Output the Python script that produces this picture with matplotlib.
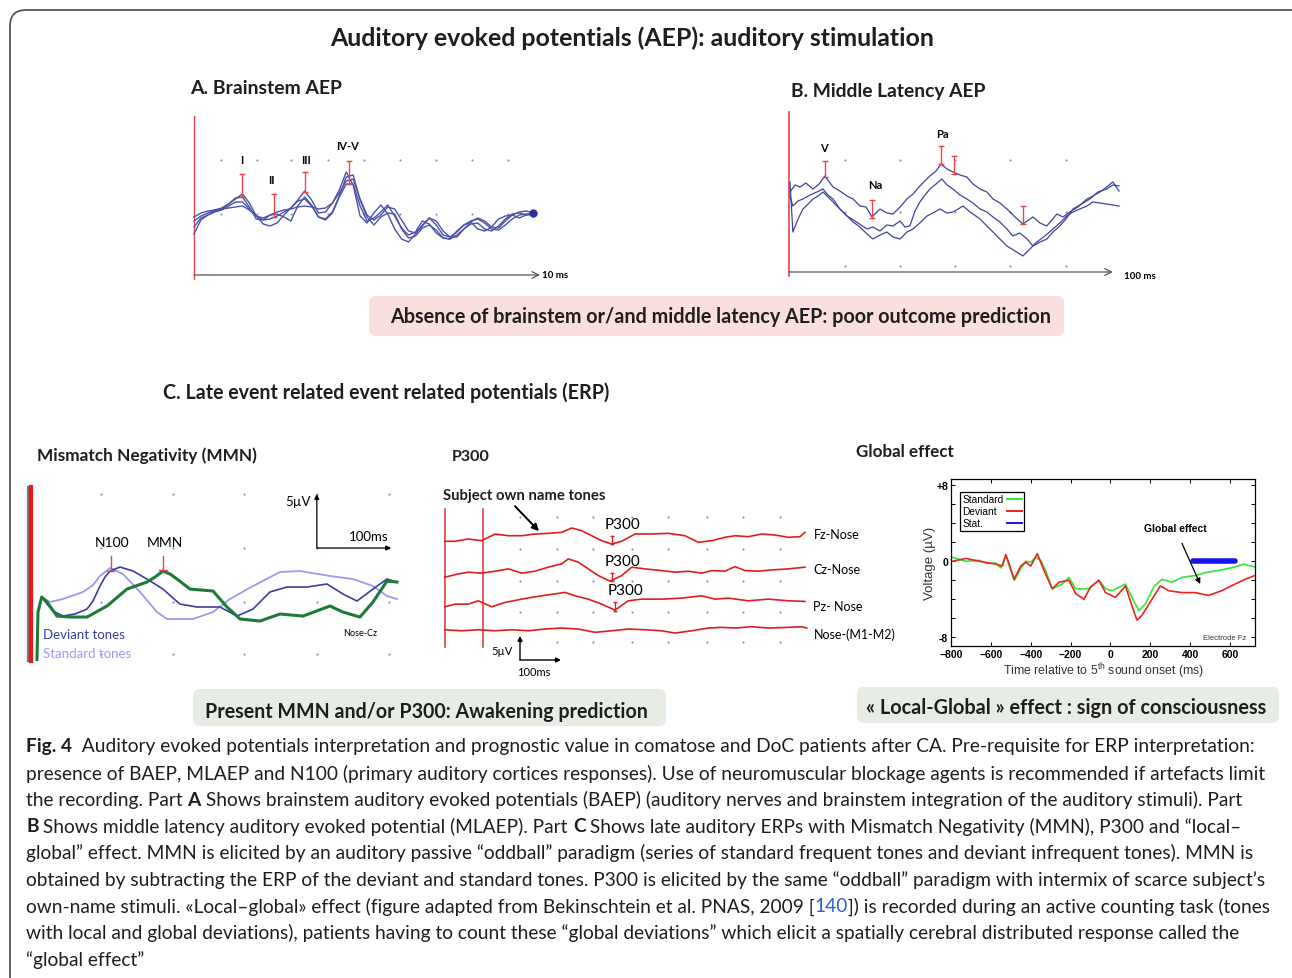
import numpy as np
import matplotlib
matplotlib.use('Agg')
import matplotlib.pyplot as plt
from matplotlib.patches import FancyBboxPatch, Rectangle
from matplotlib.font_manager import FontProperties

plt.rcParams['mathtext.fontset'] = 'custom'
plt.rcParams['mathtext.rm'] = 'Liberation Sans'
plt.rcParams['mathtext.default'] = 'regular'

SANS = 'Lato'
HELV = 'Liberation Sans'
INK = '#1e1e1e'
RED = '#e8464c'
DOT = '#8a90d0'

# ---- A. brainstem AEP (ms, uV) : 4 superimposed traces
a_t = [0.0, 0.2, 0.4, 0.6, 0.8, 1.0, 1.2, 1.4, 1.6, 1.8, 2.0, 2.2, 2.4, 2.6, 2.8, 3.0, 3.2, 3.4, 3.6, 3.8,
       4.0, 4.2, 4.4, 4.6, 4.8, 5.0, 5.2, 5.4, 5.6, 5.8, 6.0, 6.2, 6.4, 6.6, 6.8, 7.0, 7.2, 7.4, 7.6, 7.8,
       8.0, 8.2, 8.4, 8.6, 8.8, 9.0, 9.2, 9.4, 9.6, 9.8]
a_tr1 = [4.1, 5.5, 6.0, 6.4, 6.6, 7.1, 7.6, 8.1, 7.2, 5.9, 5.5, 5.6, 5.9, 6.3, 6.7, 7.5, 8.4, 7.5, 6.2, 6.3,
         7.2, 8.5, 10.3, 9.0, 5.9, 5.2, 6.2, 7.0, 6.1, 4.6, 3.6, 3.3, 4.1, 5.0, 5.7, 5.4, 4.4, 3.8, 3.8, 4.6,
         5.3, 5.7, 5.4, 4.8, 4.7, 5.4, 6.0, 6.3, 6.4, 6.2]
a_tr2 = [4.8, 5.7, 6.0, 6.3, 6.5, 6.9, 7.3, 7.3, 6.6, 5.9, 5.1, 4.9, 5.2, 6.0, 6.7, 7.4, 7.6, 6.9, 5.8, 5.5,
         6.2, 7.8, 9.1, 9.1, 6.9, 5.4, 5.7, 6.3, 7.0, 5.9, 4.7, 4.0, 4.3, 5.4, 5.1, 4.2, 3.7, 3.6, 4.4, 5.0,
         5.3, 4.6, 4.4, 4.8, 5.6, 5.9, 6.0, 5.7, 6.0, 6.1]
a_tr3 = [5.8, 6.2, 6.4, 6.5, 6.6, 6.7, 6.8, 6.9, 6.5, 5.9, 5.7, 6.0, 6.3, 6.5, 6.6, 6.8, 6.9, 6.8, 6.6, 6.7,
         7.2, 8.2, 9.4, 9.6, 7.6, 6.0, 5.5, 6.0, 6.8, 6.6, 5.5, 4.4, 4.2, 4.9, 5.7, 5.0, 4.0, 3.8, 4.3, 5.0,
         5.4, 5.6, 5.2, 4.6, 4.5, 5.0, 5.6, 6.0, 6.1, 6.1]
a_tr4 = [5.4, 5.9, 6.2, 6.5, 6.7, 7.1, 7.7, 7.8, 6.8, 5.6, 5.5, 6.0, 6.1, 5.8, 5.4, 6.9, 7.8, 7.0, 5.8, 5.6,
         6.3, 7.9, 9.8, 10.0, 7.5, 5.8, 5.0, 5.8, 6.2, 6.1, 4.6, 3.7, 3.9, 4.7, 5.0, 4.5, 3.7, 3.6, 4.0, 4.6,
         5.1, 5.2, 4.6, 4.4, 4.9, 5.6, 6.1, 6.2, 6.0, 6.1]
a_waves = ['I', 'II', 'III', 'IV-V']
a_wave_t = [1.39, 2.31, 3.21, 4.48]
a_wave_lo = [7.8, 5.8, 8.3, 9.1]
a_wave_hi = [10.1, 8.1, 10.3, 11.4]
a_label_t = [1.39, 2.23, 3.24, 4.45]
a_label_y = [11.6, 9.5, 11.6, 13.0]
a_dot_t = [0.77, 1.83, 2.8, 3.87, 4.91, 5.95, 6.99, 8.03, 9.08]
a_dot_y = [11.5, 6.1]

# ---- B. middle latency AEP (ms, uV) : 3 traces
b_t1 = [0.3, 1.9, 3.4, 5.2, 7.4, 9.3, 11.1, 13.6, 15.7, 17.9, 19.8, 21.9, 23.8, 25.6, 28.1, 30.2, 32.1,
        34.3, 36.4, 38.3, 40.4, 43.5, 45.4, 46.9, 48.8, 50.6, 52.8, 54.9, 56.8, 59.0, 61.1, 63.0, 65.1,
        67.3, 69.8, 72.2, 75.3, 77.5, 79.6, 82.7, 84.6, 86.7, 89.2, 92.0, 93.8, 96.0, 98.1, 100.0, 101.9]
b_tr1 = [8.0, 8.7, 8.5, 8.9, 8.3, 8.8, 9.6, 8.5, 8.1, 7.6, 7.3, 6.6, 6.5, 5.5, 6.3, 5.9, 5.8,
         6.5, 7.3, 7.8, 8.6, 9.6, 10.1, 10.8, 10.3, 10.0, 9.7, 9.5, 8.8, 8.3, 8.0, 7.3, 6.9,
         6.3, 5.5, 4.8, 5.5, 4.9, 4.6, 5.8, 5.5, 6.0, 6.5, 7.3, 7.6, 8.0, 8.5, 9.0, 8.1]
b_t2 = [0.3, 1.2, 2.8, 4.3, 6.5, 8.6, 10.5, 12.0, 13.6, 15.7, 17.9, 20.4, 22.2, 24.1, 25.9, 28.1, 30.2,
        32.1, 34.3, 35.8, 37.3, 38.9, 40.4, 42.0, 43.5, 45.4, 47.2, 48.8, 50.6, 52.8, 54.9, 56.8, 59.0,
        61.1, 63.0, 65.1, 67.3, 69.1, 71.3, 73.5, 75.3, 77.5, 79.6, 81.5, 83.6, 85.5, 87.7, 89.8, 92.9,
        95.4, 98.1, 100.0, 101.9]
b_tr2 = [7.6, 6.6, 7.1, 7.3, 7.7, 8.0, 8.3, 7.7, 7.3, 6.3, 5.6, 5.1, 4.7, 4.3, 4.5, 4.1, 4.7,
         4.6, 5.1, 4.5, 4.6, 6.1, 7.0, 7.7, 8.3, 8.8, 9.3, 8.7, 8.3, 7.7, 7.3, 6.9, 6.3,
         6.0, 5.5, 5.0, 4.3, 3.6, 3.9, 3.3, 2.6, 3.0, 3.3, 4.0, 4.6, 5.3, 6.3, 6.7, 7.3,
         8.0, 8.3, 8.7, 8.6]
b_t3 = [0.3, 1.2, 2.8, 4.3, 5.9, 7.4, 9.0, 10.5, 12.7, 14.8, 17.3, 19.8, 21.9, 24.1, 25.9, 28.1, 30.2,
        32.1, 34.3, 36.4, 38.3, 40.4, 42.6, 44.4, 46.6, 48.8, 50.6, 52.2, 53.7, 55.9, 59.0, 61.1, 63.0,
        65.1, 67.3, 69.8, 72.2, 74.4, 76.5, 79.0, 81.5, 83.6, 85.8, 87.7, 89.8, 92.0, 93.8, 96.0, 98.1,
        100.0, 101.9]
b_tr3 = [9.0, 4.0, 5.3, 6.3, 6.8, 7.3, 7.6, 8.0, 7.3, 6.6, 5.8, 5.0, 4.5, 3.8, 3.3, 3.7, 4.0,
         3.5, 3.3, 4.0, 4.3, 4.9, 5.6, 5.9, 6.3, 5.9, 6.0, 6.3, 6.6, 6.0, 5.3, 4.6, 4.0,
         3.3, 2.6, 2.1, 1.6, 2.3, 3.0, 3.6, 4.3, 4.9, 5.6, 6.0, 6.3, 6.6, 7.0, 6.9, 6.8,
         6.7, 6.6]
b_bar_t = [11.1, 25.6, 46.9, 50.9, 72.2]
b_bar_lo = [9.5, 5.4, 10.8, 9.8, 4.8]
b_bar_hi = [11.1, 7.2, 12.6, 11.6, 6.6]
b_waves = ['V', 'Na', 'Pa']
b_label_t = [10.8, 26.5, 47.5]
b_label_y = [12.4, 8.7, 13.8]
b_dot_t = [17.3, 34.3, 51.2, 68.2, 85.5]
b_dot_y = [11.2, 6.0, 0.6]

# ---- C1. mismatch negativity (ms, uV)
mmn_dev_t = [14.9, 22.2, 30.6, 44.4, 61.1, 77.8, 86.1, 95.8, 102.8, 109.7, 123.6, 141.7, 161.1, 183.3,
             195.8, 206.9, 230.6, 262.5, 286.1, 308.3, 331.9, 355.6, 383.3, 411.1, 433.3, 452.8, 475.0,
             494.4, 508.3]
mmn_dev = [0.46, -0.19, -0.83, -1.30, -1.11, -0.65, 0.09, 1.48, 2.31, 2.87, 3.24, 2.87, 2.13, 1.20,
           0.46, -0.19, -0.46, -0.46, -1.30, -0.65, 0.93, 1.39, 1.39, 1.67, 0.74, 0.09, 1.20,
           2.13, 1.85]
mmn_std_t = [14.9, 26.4, 44.4, 72.2, 86.1, 95.8, 109.7, 127.8, 151.4, 175.0, 188.9, 225.0, 252.8, 276.4,
             308.3, 345.8, 373.6, 415.3, 447.2, 475.0, 494.4, 508.3]
mmn_std = [0.46, 0.0, 0.28, 0.93, 1.57, 2.41, 3.15, 2.59, 0.93, -0.93, -1.57, -1.57, -0.93, 0.28,
           1.48, 2.78, 2.87, 2.41, 2.13, 1.48, 0.56, 0.28]
mmn_diff_t = [8.3, 9.7, 14.9, 22.2, 36.1, 54.2, 77.8, 105.6, 133.3, 161.1, 172.2, 183.3, 193.1, 202.8,
              220.8, 252.8, 272.2, 290.3, 318.1, 345.8, 377.8, 415.3, 433.3, 456.9, 475.0, 494.4, 508.3]
mmn_diff = [-5.46, -0.93, 0.46, 0.0, -1.30, -1.39, -1.39, -0.37, 1.20, 1.85, 2.31, 2.87, 2.59, 2.13,
            1.20, 1.02, -0.46, -1.57, -1.76, -1.11, -1.30, -0.37, -0.93, -1.39, 0.0, 1.94, 1.85]
mmn_peak_names = ['N100', 'MMN']
mmn_peak_t = [110.7, 183.3]
mmn_peak_lo = [2.9, 3.0]
mmn_peak_hi = [4.3, 4.3]
mmn_dot_t = [97, 197, 296, 397, 497]
mmn_dot_y = [10.0, 5.0, 0.0, -4.8]

# ---- C2. P300 (ms, uV relative to each channel baseline)
p3_channels = ['Fz-Nose', 'Cz-Nose', 'Pz- Nose', 'Nose-(M1-M2)']
fz_t = [-95, -70, -36.8, -3.3, 30, 63.3, 96.8, 130, 163.3, 196.8, 221.8, 246.8, 271.8, 296.8, 321.8,
        346.8, 380, 421.8, 463.3, 505, 538.3, 571.8, 605, 630, 663.3, 696.8, 730, 763.3, 792.5, 805]
fz_uv = [-0.06, -0.06, 0.42, 0.06, 1.46, 1.10, 1.10, 1.46, 1.60, 1.81, 2.71, 2.15, 1.10, 0.06, -0.63,
         -0.06, 1.46, 1.46, 1.60, 1.10, -0.27, 0.06, 0.77, 1.10, 0.90, 1.46, 1.25, 0.77, 0.90, 1.81]
cz_t = [-95, -61.8, -36.8, -3.3, 30, 63.3, 96.8, 130, 163.3, 196.8, 213.3, 238.3, 263.3, 288.3, 317.5,
        346.8, 371.8, 405, 446.8, 480, 513.3, 546.8, 571.8, 605, 630, 655, 688.3, 721.8, 763.3, 805]
cz_uv = [-0.69, 0.0, 0.35, 0.15, 0.56, 1.04, 0.15, 0.56, 1.40, 2.08, 3.13, 2.44, 1.04, -0.35, -1.52,
         -0.35, 1.40, 1.04, 0.69, 0.35, 0.56, 0.15, 0.69, 0.56, 1.52, 0.69, 0.56, 0.83, 1.04, 1.40]
pz_t = [-95, -70, -36.8, -11.8, 21.8, 55, 96.8, 130, 163.3, 205, 230, 263.3, 296.8, 330, 363.3,
        396.8, 446.8, 496.8, 546.8, 580, 613.3, 663.3, 713.3, 763.3, 805]
pz_uv = [-0.56, 0.0, 0.0, 0.69, -0.56, 0.35, 1.04, 1.52, 1.94, 2.44, 1.73, 1.04, 0.0, -1.25, 0.69,
         1.04, 1.04, 1.25, 1.73, 1.04, 1.25, 0.69, 1.04, 0.69, 0.56]
nose_t = [-95, -53.3, -11.8, 30, 71.8, 113.3, 155, 196.8, 238.3, 280, 321.8, 363.3, 405, 446.8, 480,
          521.8, 563.3, 596.8, 630, 671.8, 713.3, 763.3, 796.8, 809.3]
nose_uv = [0.06, -0.15, 0.06, -0.15, 0.06, -0.15, 0.21, 0.42, 0.21, -0.48, -0.15, 0.21, 0.06, -0.15, -0.63,
           -0.15, 0.42, 0.56, 0.42, 0.69, 0.42, 0.56, 0.69, 0.42]
p3_peak_t = [322.5, 322.5, 330]
p3_peak_lo = [-0.6, -1.5, -1.4]
p3_peak_hi = [1.1, 0.2, 0.4]
p3_dot_t = [92.5, 185, 275, 372.5, 462.5, 560, 650, 742.5]
p3_dot_y = [31.25, 24.6, 17.9, 11.5, 5.2]

# ---- C3. global effect (ms, uV)
ge_std_t = [-792, -725, -658, -625, -575, -550, -525, -508, -483, -450, -425, -400, -375, -350, -325,
            -292, -242, -208, -175, -108, -58, -25, 8, 75, 108, 142, 175, 217, 258, 308, 358, 425,
            475, 558, 625, 667, 725]
ge_std = [0.4, 0.0, 0.1, -0.2, -0.2, -0.7, 0.6, -0.5, -2.0, -0.8, 0.0, -0.1, 0.4, 0.1, -1.0,
          -2.9, -2.4, -1.7, -2.9, -2.9, -2.0, -2.9, -3.1, -2.4, -3.8, -5.2, -4.5, -2.7, -1.9, -2.2, -1.7, -1.5,
          -1.2, -0.9, -0.6, -0.3, -0.6]
ge_dev_t = [-792, -725, -658, -575, -542, -525, -508, -483, -450, -425, -400, -367, -333, -292, -258,
            -208, -175, -133, -100, -58, -25, 25, 75, 108, 133, 158, 208, 250, 292, 358, 425, 492,
            558, 625, 675, 725]
ge_dev = [0.0, 0.3, 0.0, -0.3, -0.5, 0.7, -0.3, -1.9, -0.5, -0.1, -0.5, 0.8, -1.0, -2.9, -2.2,
          -2.0, -3.4, -4.0, -2.7, -2.0, -3.3, -3.8, -2.6, -4.7, -6.2, -5.7, -4.0, -2.6, -3.1, -3.3, -3.3, -3.6,
          -3.1, -2.4, -1.9, -1.5]
ge_stat_t = [416, 625]
ge_series = ['Standard', 'Deviant', 'Stat.']
ge_colors = ['#33e633', '#ee2222', '#1515e6']
ge_xticks = [-800, -600, -400, -200, 0, 200, 400, 600]
ge_yticks = [-8, -6, -4, -2, 0, 2, 4, 6, 8]
ge_ylabels = ['-8', '', '', '', '0', '', '', '', '+8']

caption = [
    [('Fig. 4', 'bold', INK), ('  Auditory evoked potentials interpretation and prognostic value in comatose and DoC patients after CA. Pre-requisite for ERP interpretation:', 'normal', INK)],
    [('presence of BAEP, MLAEP and N100 (primary auditory cortices responses). Use of neuromuscular blockage agents is recommended if artefacts limit', 'normal', INK)],
    [('the recording. Part ', 'normal', INK), ('A', 'bold', INK), (' Shows brainstem auditory evoked potentials (BAEP) (auditory nerves and brainstem integration of the auditory stimuli). Part', 'normal', INK)],
    [('B', 'bold', INK), (' Shows middle latency auditory evoked potential (MLAEP). Part ', 'normal', INK), ('C', 'bold', INK), (' Shows late auditory ERPs with Mismatch Negativity (MMN), P300 and \u201clocal\u2013', 'normal', INK)],
    [('global\u201d effect. MMN is elicited by an auditory passive \u201coddball\u201d paradigm (series of standard frequent tones and deviant infrequent tones). MMN is', 'normal', INK)],
    [('obtained by subtracting the ERP of the deviant and standard tones. P300 is elicited by the same \u201coddball\u201d paradigm with intermix of scarce subject\u2019s', 'normal', INK)],
    [('own-name stimuli. \u00abLocal\u2013global\u00bb effect (figure adapted from Bekinschtein et al. PNAS, 2009 [', 'normal', INK), ('140', 'normal', '#2a62c9'), (']) is recorded during an active counting task (tones', 'normal', INK)],
    [('with local and global deviations), patients having to count these \u201cglobal deviations\u201d which elicit a spatially cerebral distributed response called the', 'normal', INK)],
    [('\u201cglobal effect\u201d', 'normal', INK)],
]

W, H = 1292, 979
fig = plt.figure(figsize=(W / 100, H / 100), dpi=100)
R = fig.canvas.get_renderer()

bg = fig.add_axes([0, 0, 1, 1])
bg.set_xlim(0, W)
bg.set_ylim(H, 0)
bg.axis('off')


def px_axes(l, t, r, b):
    ax = fig.add_axes([l / W, 1 - b / H, (r - l) / W, (b - t) / H])
    ax.axis('off')
    return ax


def text_w(s, size, weight='normal', family=SANS):
    fp = FontProperties(family=family, size=size, weight=weight)
    w1 = R.get_text_width_height_descent(s + '|', fp, ismath=False)[0]
    w0 = R.get_text_width_height_descent('|', fp, ismath=False)[0]
    return w1 - w0


def fit(x, y, s, width, ha='left', weight='bold', color=INK):
    size = 10 * width / text_w(s, 10, weight)
    bg.text(x, y, s, fontsize=size, ha=ha, va='center', fontweight=weight, color=color, family=SANS)


def ibar(ax, t, lo, hi, color=RED, ms=4):
    ax.plot([t, t], [lo, hi], color=color, lw=1.0, clip_on=False)
    ax.plot([t, t], [lo, hi], ls='none', marker='_', ms=ms, mew=1.0, color=color, clip_on=False)


def dots(ax, xs, ys):
    gx, gy = np.meshgrid(xs, ys)
    ax.scatter(gx.ravel(), gy.ravel(), s=2.5, color=DOT, lw=0, zorder=0)


# frame and boxes
bg.add_patch(FancyBboxPatch((10, 11), 1320, 1000, boxstyle='round,pad=0,rounding_size=16',
                            fc='none', ec='#555555', lw=1.3))
bg.add_patch(FancyBboxPatch((369, 297), 695, 40, boxstyle='round,pad=0,rounding_size=7',
                            fc='#fbdede', ec='none'))
bg.add_patch(FancyBboxPatch((193, 690), 473, 37, boxstyle='round,pad=0,rounding_size=7',
                            fc='#e7ede4', ec='none'))
bg.add_patch(FancyBboxPatch((857, 688), 422, 36, boxstyle='round,pad=0,rounding_size=7',
                            fc='#e7ede4', ec='none'))

fit(632, 38, 'Auditory evoked potentials (AEP): auditory stimulation', 604, ha='center')
fit(190, 89, 'A. Brainstem AEP', 152)
fit(791, 91, 'B. Middle Latency AEP', 196)
fit(721, 317, 'Absence of brainstem or/and middle latency AEP: poor outcome prediction', 664, ha='center')
fit(163, 393, 'C. Late event related event related potentials (ERP)', 448)
fit(37, 456, 'Mismatch Negativity (MMN)', 220)
fit(452, 457, 'P300', 38)
fit(856, 452, 'Global effect', 98)
fit(443, 496, 'Subject own name tones', 163)
fit(426, 712, 'Present MMN and/or P300: Awakening prediction', 442, ha='center')
fit(1066, 708, '\u00ab Local-Global \u00bb effect : sign of consciousness', 401, ha='center')

# caption
cap_size = 10 * 1236 / sum(text_w(s, 10, w) for s, w, c in caption[0])
for i, line in enumerate(caption):
    x = 26
    y = 747 + i * 26.6
    for s, w, c in line:
        bg.text(x, y, s, fontsize=cap_size, fontweight=w, color=c, ha='left', va='center', family=SANS)
        x += text_w(s, cap_size, w)

# ---- panel A
ax = px_axes(194, 117, 540, 280)
ax.set_xlim(0, 10)
ax.set_ylim(-0.4, 15.9)
dots(ax, a_dot_t, a_dot_y)
ax.axvline(0, color=RED, lw=1.0, clip_on=False)
ax.axvline(10.03, ymax=0.86, color='#e4e4e4', lw=0.8)
ax.annotate('', xy=(10, 0), xytext=(0, 0), annotation_clip=False,
            arrowprops=dict(arrowstyle='->', color='#555555', lw=0.9, shrinkA=0, shrinkB=0,
                            mutation_scale=12))
ax.text(10.05, 0, '10 ms', fontsize=7, fontweight='bold', va='center', ha='left', family=SANS)
for tr in (a_tr1, a_tr2, a_tr3, a_tr4):
    ax.plot(a_t, tr, color='#4d52a8', lw=1.0, clip_on=False)
ax.plot(a_t[-1], a_tr1[-1], 'o', ms=5, color='#2b2f96', clip_on=False)
for name, t, lo, hi, lt, ly in zip(a_waves, a_wave_t, a_wave_lo, a_wave_hi, a_label_t, a_label_y):
    ibar(ax, t, lo, hi)
    ax.text(lt, ly, name, fontsize=8, fontweight='bold', ha='center', va='center', family=SANS)

# ---- panel B
ax = px_axes(789, 113, 1120, 277)
ax.set_xlim(0, 102.2)
ax.set_ylim(-0.4, 16.0)
dots(ax, b_dot_t, b_dot_y)
ax.axvline(0, color=RED, lw=1.2, clip_on=False)
ax.annotate('', xy=(100, 0), xytext=(0, 0), annotation_clip=False,
            arrowprops=dict(arrowstyle='->', color='#555555', lw=0.9, shrinkA=0, shrinkB=0,
                            mutation_scale=12))
ax.text(103.4, -0.4, '100 ms', fontsize=7, fontweight='bold', va='center', ha='left', family=SANS)
for tt, tr in ((b_t1, b_tr1), (b_t2, b_tr2), (b_t3, b_tr3)):
    ax.plot(tt, tr, color='#3f4499', lw=0.9, clip_on=False)
for t, lo, hi in zip(b_bar_t, b_bar_lo, b_bar_hi):
    ibar(ax, t, lo, hi)
for name, lt, ly in zip(b_waves, b_label_t, b_label_y):
    ax.text(lt, ly, name, fontsize=8, fontweight='bold', ha='center', va='center', family=SANS)

# ---- panel C1 MMN
ax = px_axes(26, 488, 402, 662)
ax.set_xlim(-6.94, 515.3)
ax.set_ylim(-5.46, 10.65)
dots(ax, mmn_dot_t, mmn_dot_y)
ax.axvline(-4.2, color='#7a7a7a', lw=1.6, clip_on=False)
ax.axvline(0, color='#ee1515', lw=3, clip_on=False)
ax.plot(mmn_std_t, mmn_std, color='#9a9af4', lw=1.3)
ax.plot(mmn_dev_t, mmn_dev, color='#3b3e9e', lw=1.2)
ax.plot(mmn_diff_t, mmn_diff, color='#1e7a36', lw=2.2)
for name, t, lo, hi in zip(mmn_peak_names, mmn_peak_t, mmn_peak_lo, mmn_peak_hi):
    ax.plot([t, t], [lo, hi], color=RED, lw=1.0)
    ax.plot([t - 5, t + 5], [lo, lo], color=RED, lw=1.0)
    ax.text(t + 2, 5.6, name, fontsize=10, ha='center', va='center', family=SANS)
ax.annotate('', xy=(397, 10.0), xytext=(397, 5.0),
            arrowprops=dict(arrowstyle='-|>', color='black', lw=0.9, shrinkA=0, shrinkB=0, mutation_scale=7))
ax.annotate('', xy=(500, 5.0), xytext=(397, 5.0),
            arrowprops=dict(arrowstyle='-|>', color='black', lw=0.9, shrinkA=0, shrinkB=0, mutation_scale=7))
ax.text(388, 9.4, '5\u00b5V', fontsize=9.5, ha='right', va='center', family=SANS)
ax.text(497, 6.1, '100ms', fontsize=9.5, ha='right', va='center', family=SANS)
ax.text(16, -2.96, 'Deviant tones', fontsize=9.5, color='#3b3e9e', ha='left', va='center', family=SANS)
ax.text(16, -4.7, 'Standard tones', fontsize=9.5, color='#9a9af4', ha='left', va='center', family=SANS)
ax.text(457, -2.8, 'Nose-Cz', fontsize=6.5, ha='center', va='center', family=SANS)

# ---- panel C2 P300
P3_OFFSETS = [26.25, 19.4, 13.1, 7.7]
ax = px_axes(440, 505, 812, 680)
ax.set_xlim(-107.5, 822.5)
ax.set_ylim(-2.5, 33.96)
dots(ax, p3_dot_t, p3_dot_y)
for xv in (-95, 0):
    ax.plot([xv, xv], [4.17, 32.9], color='#e03030', lw=1.1)
traces = ((fz_t, fz_uv), (cz_t, cz_uv), (pz_t, pz_uv), (nose_t, nose_uv))
label_dy = [1.45, 1.0, -0.4, -0.8]
for (tt, uv), off, name, dy in zip(traces, P3_OFFSETS, p3_channels, label_dy):
    ax.plot(tt, np.array(uv) + off, color='#e11d1d', lw=1.2, clip_on=False)
    ax.text(826, off + dy, name, fontsize=9, ha='left', va='center', family=SANS)
for t, lo, hi, off in zip(p3_peak_t, p3_peak_lo, p3_peak_hi, P3_OFFSETS):
    ibar(ax, t, lo + off, hi + off, color='#e11d1d', ms=3)
    ax.text(t + 27, hi + off + 2.5, 'P300', fontsize=11, ha='center', va='center', family=SANS)
ax.annotate('', xy=(140, 28.3), xytext=(80, 33.5), annotation_clip=False,
            arrowprops=dict(arrowstyle='-|>', color='black', lw=1.4, shrinkA=0, shrinkB=0, mutation_scale=10))
ax.annotate('', xy=(92.5, 6.5), xytext=(92.5, 1.46),
            arrowprops=dict(arrowstyle='-|>', color='black', lw=1.0, shrinkA=0, shrinkB=0, mutation_scale=7))
ax.annotate('', xy=(195, 1.46), xytext=(92.5, 1.46),
            arrowprops=dict(arrowstyle='-|>', color='black', lw=1.0, shrinkA=0, shrinkB=0, mutation_scale=7))
ax.text(47.5, 3.5, '5\u00b5V', fontsize=8, ha='center', va='center', family=SANS)
ax.text(127.5, -0.9, '100ms', fontsize=8, ha='center', va='center', family=SANS)

# ---- panel C3 global effect
ax = fig.add_axes([951 / W, 1 - 647 / H, (1255 - 951) / W, (647 - 480) / H])
ax.plot(ge_std_t, ge_std, color=ge_colors[0], lw=1.2)
ax.plot(ge_dev_t, ge_dev, color=ge_colors[1], lw=1.2)
ax.plot(ge_stat_t, [0, 0], color=ge_colors[2], lw=4, solid_capstyle='round')
ax.set_xlim(-800, 725)
ax.set_ylim(-8.92, 8.66)
ax.set_xticks(ge_xticks)
ax.set_yticks(ge_yticks)
ax.set_yticklabels(ge_ylabels)
ax.tick_params(direction='in', top=True, right=True, length=3, width=0.7, labelsize=7.5, pad=2)
for lab in ax.get_xticklabels() + ax.get_yticklabels():
    lab.set_fontweight('bold')
    lab.set_family(HELV)
for sp in ax.spines.values():
    sp.set_linewidth(0.9)
ax.set_ylabel('Voltage (\u00b5V)', fontsize=9.5, labelpad=0, family=HELV, color='#333333')
ax.set_xlabel('Time relative to 5$^{th}$ sound onset (ms)', fontsize=8.8, labelpad=1, family=HELV,
              color='#333333')

# legend drawn by hand: labels left, sample lines right
ax.add_patch(Rectangle((0.030, 0.689), 0.21, 0.233, transform=ax.transAxes, fc='white', ec='black',
                       lw=0.9, zorder=4))
for k, (name, col) in enumerate(zip(ge_series, ge_colors)):
    yk = 0.880 - k * 0.072
    ax.text(0.037, yk, name, transform=ax.transAxes, fontsize=7.3, family=HELV, ha='left', va='center',
            zorder=5)
    ax.plot([0.183, 0.232], [yk, yk], transform=ax.transAxes, color=col, lw=1.4, zorder=5)

ax.annotate('Global effect', xy=(450, -2.4), xytext=(324, 3.5), ha='center', va='center',
            fontsize=7.5, fontweight='bold', family=HELV,
            arrowprops=dict(arrowstyle='-|>', color='black', lw=0.9, shrinkA=6, shrinkB=0, mutation_scale=8))
ax.text(0.97, 0.05, 'Electrode Fz', transform=ax.transAxes, fontsize=5.5, ha='right', va='center',
        family=HELV, color='#333333')

fig.savefig('out.png', dpi=100)
